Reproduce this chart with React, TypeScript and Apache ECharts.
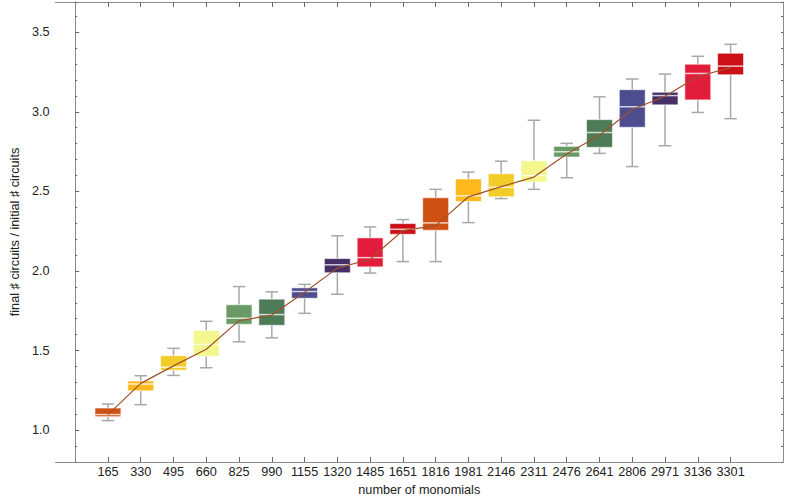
import React, { useEffect, useRef } from "react";
import * as echarts from "echarts";

const labels = ["165", "330", "495", "660", "825", "990", "1155", "1320", "1485", "1651", "1816", "1981", "2146", "2311", "2476", "2641", "2806", "2971", "3136", "3301"];
const lowWhisker = [1.06, 1.16, 1.344, 1.392, 1.555, 1.58, 1.734, 1.854, 1.987, 2.059, 2.059, 2.304, 2.455, 2.513, 2.586, 2.739, 2.656, 2.787, 2.996, 2.957];
const q1 = [1.085, 1.247, 1.377, 1.465, 1.665, 1.659, 1.829, 1.989, 2.026, 2.231, 2.256, 2.437, 2.466, 2.559, 2.716, 2.777, 2.903, 3.044, 3.075, 3.233];
const median = [1.098, 1.29, 1.396, 1.539, 1.703, 1.726, 1.871, 2.039, 2.084, 2.262, 2.302, 2.472, 2.526, 2.6, 2.749, 2.87, 3.032, 3.102, 3.241, 3.287];
const q3 = [1.139, 1.309, 1.468, 1.626, 1.788, 1.823, 1.894, 2.078, 2.208, 2.298, 2.46, 2.578, 2.611, 2.692, 2.783, 2.951, 3.139, 3.123, 3.299, 3.368];
const highWhisker = [1.164, 1.342, 1.514, 1.684, 1.902, 1.869, 1.916, 2.221, 2.277, 2.323, 2.513, 2.621, 2.69, 2.947, 2.802, 3.094, 3.206, 3.237, 3.349, 3.424];
const mean = [1.098, 1.294, 1.404, 1.508, 1.688, 1.723, 1.866, 2.018, 2.074, 2.254, 2.285, 2.466, 2.53, 2.59, 2.735, 2.853, 3.015, 3.098, 3.222, 3.278];
const positions = [1, 2, 3, 4, 5, 6, 7, 8, 9, 10, 11, 12, 13, 14, 15, 16, 17, 18, 19, 20];
const yMajorTicks = [1.0, 1.5, 2.0, 2.5, 3.0, 3.5];

const palette = ["#CE5013", "#FDB91E", "#F2CD2A", "#F3F78D", "#6A9B66", "#4E7B58", "#4D4C8F", "#472F66", "#E21C3B", "#CC1018"];

const FONT = "'Liberation Sans', Arial, sans-serif";
const FS = 12.7;

export default function App() {
  const ref = useRef<HTMLDivElement>(null);
  useEffect(() => {
    if (!ref.current) return;
    const chart = echarts.init(ref.current, null, { renderer: "svg" });
    const boxData = positions.map((p, i) => [p, lowWhisker[i], q1[i], median[i], q3[i], highWhisker[i]]);
    const lineData = positions.map((p, i) => [p, mean[i]]);
    const axisLineStyle = { color: "#8a8a8a", width: 1 };
    const tickStyle = { color: "#666", width: 1 };
    const yMin = 0.8;
    const yMax = 3.69;
    const xMin = -0.6;
    const xMax = 21.6;
    chart.setOption({
      animation: false,
      backgroundColor: "#fff",
      grid: { left: 37, right: 6, top: 2, bottom: 35, containLabel: false },
      xAxis: [
        {
          type: "value",
          min: xMin,
          max: xMax,
          position: "bottom",
          name: "number of monomials",
          nameLocation: "middle",
          nameGap: 21,
          nameTextStyle: { fontFamily: FONT, fontSize: FS, color: "#222" },
          axisLine: { show: true, lineStyle: axisLineStyle },
          axisTick: { show: true, inside: true, length: 5, lineStyle: tickStyle, customValues: positions },
          axisLabel: {
            show: true,
            margin: 3,
            fontFamily: FONT,
            fontSize: FS,
            color: "#222",
            customValues: positions,
            formatter: (v: number) => labels[Math.round(v) - 1] ?? "",
          },
          splitLine: { show: false },
        },
        {
          type: "value",
          min: xMin,
          max: xMax,
          position: "top",
          axisLine: { show: true, lineStyle: axisLineStyle },
          axisTick: { show: true, inside: true, length: 5, lineStyle: tickStyle, customValues: positions },
          axisLabel: { show: false },
          splitLine: { show: false },
        },
      ],
      yAxis: [
        {
          type: "value",
          min: yMin,
          max: yMax,
          position: "left",
          name: "final \u266F circuits / initial \u266F circuits",
          nameLocation: "middle",
          nameGap: 27,
          nameTextStyle: { fontFamily: FONT, fontSize: FS, color: "#222" },
          axisLine: { show: true, lineStyle: axisLineStyle },
          axisTick: { show: true, inside: true, length: 4, lineStyle: tickStyle, customValues: yMajorTicks },
          axisLabel: {
            show: true,
            margin: 6,
            fontFamily: FONT,
            fontSize: FS,
            color: "#222",
            customValues: yMajorTicks,
            formatter: (v: number) => v.toFixed(1),
          },
          splitLine: { show: false },
        },
        {
          type: "value",
          min: yMin,
          max: yMax,
          interval: 0.1,
          position: "left",
          axisLine: { show: false },
          axisTick: { show: true, inside: true, length: 2, lineStyle: tickStyle },
          axisLabel: { show: false },
          splitLine: { show: false },
        },
        {
          type: "value",
          min: yMin,
          max: yMax,
          interval: 0.1,
          position: "right",
          axisLine: { show: true, lineStyle: axisLineStyle },
          axisTick: { show: true, inside: true, length: 2, lineStyle: tickStyle },
          axisLabel: { show: false },
          splitLine: { show: false },
        },
      ],
      series: [
        {
          type: "custom",
          xAxisIndex: 0,
          yAxisIndex: 0,
          data: boxData,
          encode: { x: 0, y: [1, 2, 3, 4, 5] },
          renderItem: (params: any, api: any) => {
            const x = api.value(0);
            const lo = api.coord([x, api.value(1)]);
            const b1 = api.coord([x, api.value(2)]);
            const md = api.coord([x, api.value(3)]);
            const b3 = api.coord([x, api.value(4)]);
            const hi = api.coord([x, api.value(5)]);
            const unit = api.size([1, 0])[0];
            const bw = unit * 0.79;
            const cw = unit * 0.38;
            const cx = lo[0];
            const color = palette[params.dataIndex % palette.length];
            const whisk = { stroke: "#a8a8a8", lineWidth: 1.5 };
            return {
              type: "group",
              children: [
                { type: "line", shape: { x1: cx, y1: hi[1], x2: cx, y2: b3[1] }, style: whisk },
                { type: "line", shape: { x1: cx, y1: b1[1], x2: cx, y2: lo[1] }, style: whisk },
                { type: "line", shape: { x1: cx - cw / 2, y1: hi[1], x2: cx + cw / 2, y2: hi[1] }, style: whisk },
                { type: "line", shape: { x1: cx - cw / 2, y1: lo[1], x2: cx + cw / 2, y2: lo[1] }, style: whisk },
                {
                  type: "rect",
                  shape: { x: cx - bw / 2, y: b3[1], width: bw, height: b1[1] - b3[1] },
                  style: { fill: color, stroke: "rgba(255,255,255,0.55)", lineWidth: 1 },
                },
                {
                  type: "line",
                  shape: { x1: cx - bw / 2, y1: md[1], x2: cx + bw / 2, y2: md[1] },
                  style: { stroke: "rgba(255,255,255,0.75)", lineWidth: 1.5 },
                },
              ],
            };
          },
          z: 2,
        },
        {
          type: "line",
          xAxisIndex: 0,
          yAxisIndex: 0,
          data: lineData,
          showSymbol: false,
          symbol: "none",
          lineStyle: { color: "#A0522D", width: 1.2 },
          z: 3,
        },
      ],
    });
    return () => chart.dispose();
  }, []);
  return (
    <div
      ref={ref}
      style={{ position: "fixed", left: 0, top: 0, width: 789, height: 501, background: "#fff" }}
    />
  );
}
